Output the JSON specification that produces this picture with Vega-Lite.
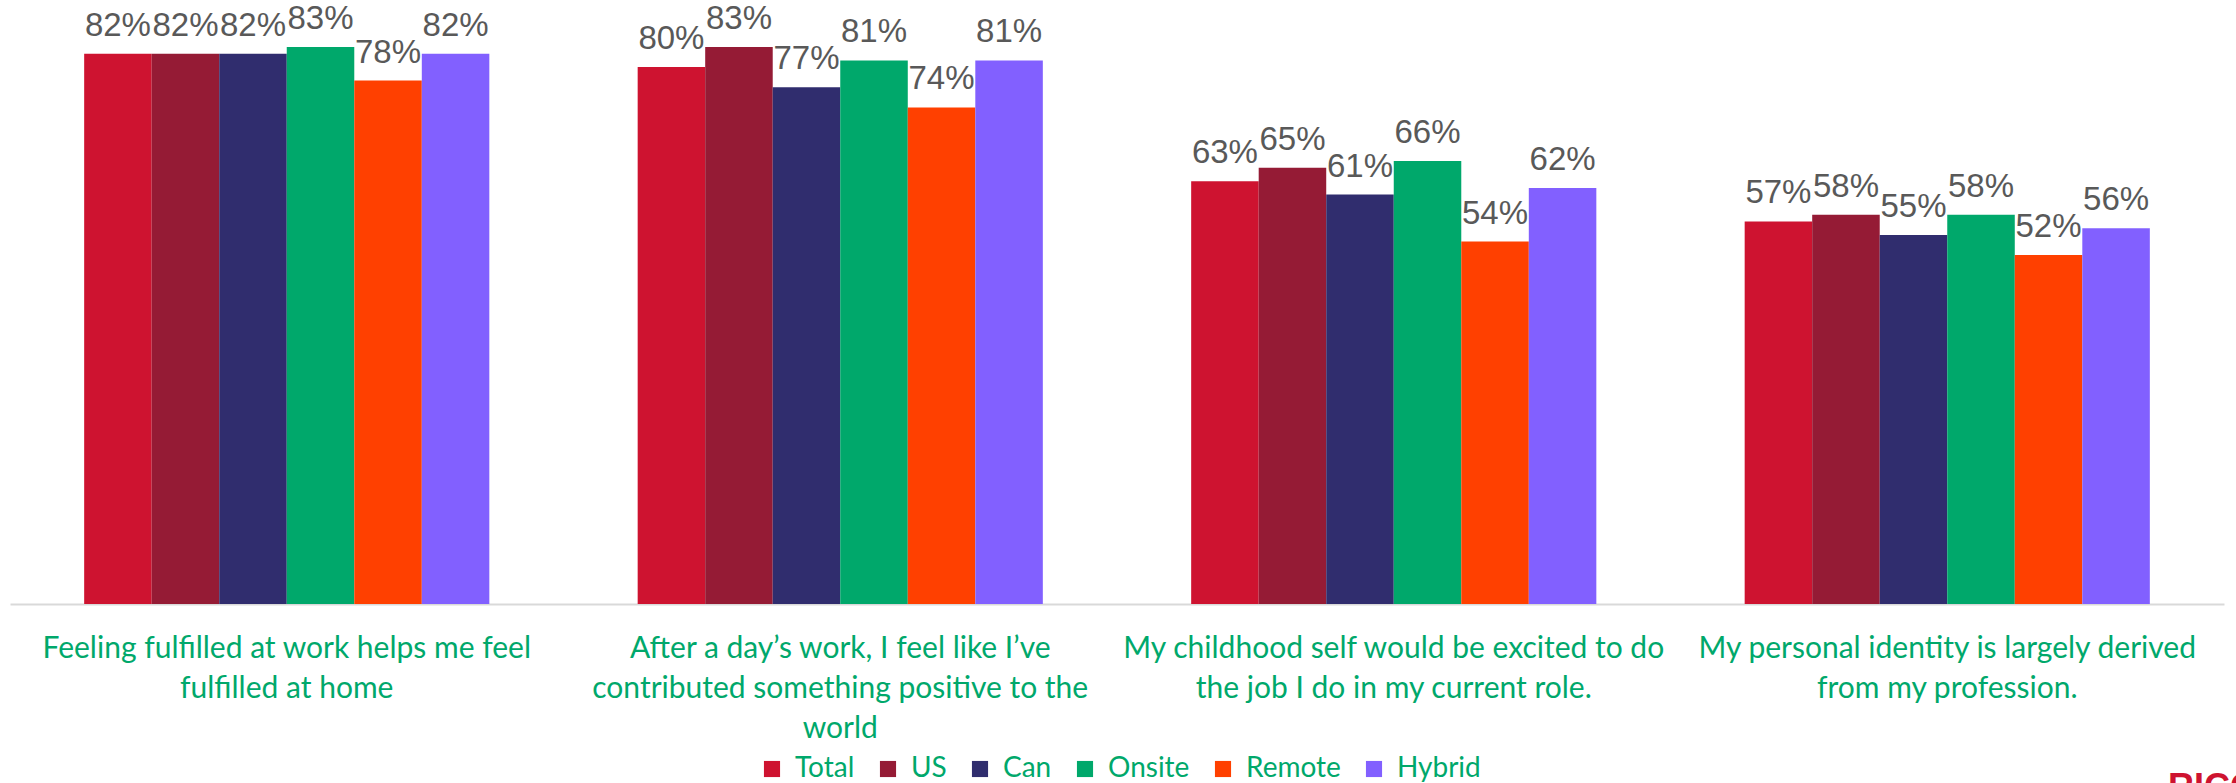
{
  "$schema": "https://vega.github.io/schema/vega-lite/v6.json",
  "width": 2214,
  "height": 604,
  "autosize": {"type": "none"},
  "padding": {"left": 10, "top": 0, "right": 12, "bottom": 179},
  "background": "white",
  "config": {"view": {"stroke": null}},
  "title": {
    "text": "RICOH",
    "orient": "bottom",
    "anchor": "end",
    "color": "#CE1330",
    "font": "Liberation Sans",
    "fontSize": 36,
    "fontWeight": "bold",
    "offset": 0,
    "dx": 60,
    "dy": -12
  },
  "data": {
    "values": [
      {"question": "Feeling fulfilled at work helps me feel|fulfilled at home", "group": "Total", "value": 0.82},
      {"question": "Feeling fulfilled at work helps me feel|fulfilled at home", "group": "US", "value": 0.82},
      {"question": "Feeling fulfilled at work helps me feel|fulfilled at home", "group": "Can", "value": 0.82},
      {"question": "Feeling fulfilled at work helps me feel|fulfilled at home", "group": "Onsite", "value": 0.83},
      {"question": "Feeling fulfilled at work helps me feel|fulfilled at home", "group": "Remote", "value": 0.78},
      {"question": "Feeling fulfilled at work helps me feel|fulfilled at home", "group": "Hybrid", "value": 0.82},
      {"question": "After a day’s work, I feel like I’ve|contributed something positive to the|world", "group": "Total", "value": 0.80},
      {"question": "After a day’s work, I feel like I’ve|contributed something positive to the|world", "group": "US", "value": 0.83},
      {"question": "After a day’s work, I feel like I’ve|contributed something positive to the|world", "group": "Can", "value": 0.77},
      {"question": "After a day’s work, I feel like I’ve|contributed something positive to the|world", "group": "Onsite", "value": 0.81},
      {"question": "After a day’s work, I feel like I’ve|contributed something positive to the|world", "group": "Remote", "value": 0.74},
      {"question": "After a day’s work, I feel like I’ve|contributed something positive to the|world", "group": "Hybrid", "value": 0.81},
      {"question": "My childhood self would be excited to do|the job I do in my current role.", "group": "Total", "value": 0.63},
      {"question": "My childhood self would be excited to do|the job I do in my current role.", "group": "US", "value": 0.65},
      {"question": "My childhood self would be excited to do|the job I do in my current role.", "group": "Can", "value": 0.61},
      {"question": "My childhood self would be excited to do|the job I do in my current role.", "group": "Onsite", "value": 0.66},
      {"question": "My childhood self would be excited to do|the job I do in my current role.", "group": "Remote", "value": 0.54},
      {"question": "My childhood self would be excited to do|the job I do in my current role.", "group": "Hybrid", "value": 0.62},
      {"question": "My personal identity is largely derived|from my profession.", "group": "Total", "value": 0.57},
      {"question": "My personal identity is largely derived|from my profession.", "group": "US", "value": 0.58},
      {"question": "My personal identity is largely derived|from my profession.", "group": "Can", "value": 0.55},
      {"question": "My personal identity is largely derived|from my profession.", "group": "Onsite", "value": 0.58},
      {"question": "My personal identity is largely derived|from my profession.", "group": "Remote", "value": 0.52},
      {"question": "My personal identity is largely derived|from my profession.", "group": "Hybrid", "value": 0.56}
    ]
  },
  "encoding": {
    "x": {
      "field": "question",
      "type": "nominal",
      "sort": null,
      "scale": {"paddingInner": 0.268, "paddingOuter": 0.134},
      "axis": {
        "title": null,
        "labelAngle": 0,
        "labelExpr": "split(datum.label, '|')",
        "labelFont": "Lato",
        "labelFontSize": 30,
        "labelLineHeight": 40,
        "labelColor": "#00A86B",
        "labelPadding": 29,
        "labelLimit": 0,
        "ticks": false,
        "domainColor": "#D9D9D9",
        "domainWidth": 2
      }
    },
    "xOffset": {
      "field": "group",
      "type": "nominal",
      "sort": ["Total", "US", "Can", "Onsite", "Remote", "Hybrid"],
      "scale": {"paddingInner": 0, "paddingOuter": 0}
    },
    "y": {
      "field": "value",
      "type": "quantitative",
      "scale": {"domain": [0, 0.9], "nice": false},
      "axis": null
    }
  },
  "layer": [
    {
      "mark": {"type": "bar"},
      "encoding": {
        "color": {
          "field": "group",
          "type": "nominal",
          "sort": ["Total", "US", "Can", "Onsite", "Remote", "Hybrid"],
          "scale": {
            "domain": ["Total", "US", "Can", "Onsite", "Remote", "Hybrid"],
            "range": ["#CE1330", "#951B35", "#302D6E", "#00A86B", "#FF4000", "#8260FF"]
          },
          "legend": {
            "title": null,
            "orient": "none",
            "direction": "horizontal",
            "legendX": 748,
            "legendY": 755,
            "symbolType": "square",
            "symbolSize": 260,
            "symbolStrokeWidth": 0,
            "labelFont": "Lato",
            "labelFontSize": 28,
            "labelColor": "#00A86B",
            "labelOffset": 9,
            "columnPadding": 19,
            "padding": 0
          }
        }
      }
    },
    {
      "mark": {
        "type": "text",
        "baseline": "alphabetic",
        "dy": -18,
        "font": "Liberation Sans",
        "fontSize": 33,
        "color": "#595959"
      },
      "encoding": {
        "text": {"field": "value", "type": "quantitative", "format": ".0%"}
      }
    }
  ]
}
